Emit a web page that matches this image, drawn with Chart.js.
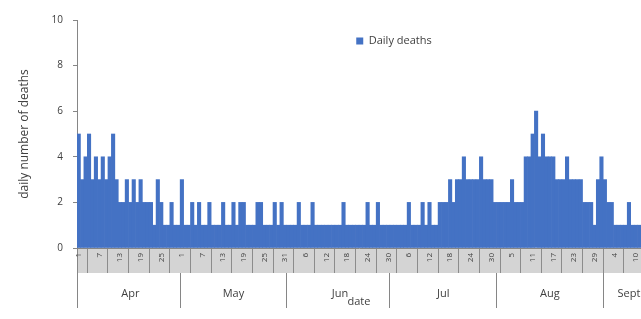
<!DOCTYPE html>
<html>
<head>
<meta charset="utf-8">
<script src="https://cdn.jsdelivr.net/npm/chart.js@4"></script>
<style>
  html, body { margin: 0; padding: 0; background: #fff; }
  #wrap { width: 641px; height: 319px; }
</style>
</head>
<body>
<div id="wrap"><canvas id="chart"></canvas></div>
<script>
// months on the lower axis and how many of their days are shown
const months = ["Apr", "May", "Jun", "Jul", "Aug", "Sept"];
const monthDays = [30, 31, 30, 31, 31, 11];
// day of the month under which the month name is written
const monthLabelDay = [16, 16, 16, 16, 16, 8];

// daily deaths, one value per day
const aprDeaths = [5,3,4,5,3,4,3,4,3,4, 5,3,2,2,3,2,3,2,3,2, 2,2,1,3,2,1,1,2,1,1];
const mayDeaths = [3,1,1,2,1,2,1,1,2,1, 1,1,2,1,1,2,1,2,2,1, 1,1,2,2,1,1,1,2,1,2, 1];
const junDeaths = [1,1,1,2,1,1,1,2,1,1, 1,1,1,1,1,1,2,1,1,1, 1,1,1,2,1,1,2,1,1,1];
const julDeaths = [1,1,1,1,1,2,1,1,1,2, 1,2,1,1,2,2,2,3,2,3, 3,4,3,3,3,3,4,3,3,3, 2];
const augDeaths = [2,2,2,2,3,2,2,2,4,4, 5,6,4,5,4,4,4,3,3,3, 4,3,3,3,3,2,2,2,1,3, 4];
const sepDeaths = [3,2,2,1,1,1,1,2,1,1,1];

const deaths = [].concat(aprDeaths, mayDeaths, junDeaths, julDeaths, augDeaths, sepDeaths);

// one category per day
let labels = [], dayNum = [], monthIdx = [];
months.forEach((m, i) => {
    for (let d = 1; d <= monthDays[i]; d++) {
        labels.push(m + " " + d);
        dayNum.push(d);
        monthIdx.push(i);
    }
});

const txt = "#404040";
const axisLine = "#868686";
const font = "'Open Sans', sans-serif";

// put the legend inside the plot, like the Excel original
const legendInPlot = {
    id: "legendInPlot",
    beforeInit(chart) {
        const lg = chart.legend;
        const fit = lg.fit;
        lg.fit = function () { fit.call(this); this.fullH = this.height; this.height = 0; };
    },
    afterLayout(chart) {
        const lg = chart.legend, a = chart.chartArea;
        const cx = a.left + (a.right - a.left) * 0.562;
        const w = lg.width;
        lg.left = cx - w / 2;
        lg.right = cx + w / 2;
        lg.top = chart.scales.y.getPixelForValue(8.95) - lg.fullH / 2;
        lg.height = lg.fullH;
        lg.bottom = lg.top + lg.fullH;
    }
};

// grey band behind the day labels
const dayBand = {
    id: "dayBand",
    beforeDraw(chart) {
        const s = chart.scales.x, ctx = chart.ctx;
        ctx.save();
        ctx.fillStyle = "#d4d4d4";
        ctx.fillRect(s.left, s.top, s.right - s.left, s.bottom - s.top);
        ctx.restore();
    }
};

new Chart(document.getElementById("chart").getContext("2d"), {
    type: "bar",
    data: {
        labels: labels,
        datasets: [{
            label: "Daily deaths",
            data: deaths,
            backgroundColor: "#4472C4",
            borderWidth: 0,
            barPercentage: 1,
            categoryPercentage: 1,
            xAxisID: "x"
        }]
    },
    options: {
        responsive: true,
        maintainAspectRatio: false,
        animation: false,
        layout: { padding: { top: 20, left: 0, right: 0, bottom: 11 } },
        plugins: {
            legend: {
                position: "top",
                labels: { boxWidth: 7, boxHeight: 7, padding: 4, color: txt, font: { family: font, size: 11 } }
            },
            tooltip: { enabled: false }
        },
        scales: {
            x: {
                position: "bottom",
                offset: true,
                grid: {
                    offset: true,
                    drawOnChartArea: false,
                    tickLength: 25,
                    color: c => (c.index === 0 ? axisLine : c.index % 6 === 3 ? "#8c8c8c" : "rgba(0,0,0,0)")
                },
                border: { color: axisLine },
                ticks: {
                    autoSkip: false, minRotation: 90, maxRotation: 90, padding: -20,
                    color: txt, font: { family: font, size: 8 },
                    callback: (v, i) => (i % 6 === 0 ? String(dayNum[i]) : "")
                },
                afterFit: s => { s.height = 25; }
            },
            xm: {
                type: "category",
                position: "bottom",
                offset: true,
                grid: {
                    offset: true,
                    drawOnChartArea: false,
                    tickLength: 35,
                    color: c => (dayNum[c.index] === 1 ? axisLine : "rgba(0,0,0,0)")
                },
                border: { display: false },
                ticks: {
                    autoSkip: false, minRotation: 0, maxRotation: 0, padding: -21,
                    color: txt, font: { family: font, size: 11 },
                    callback: (v, i) => (dayNum[i] === monthLabelDay[monthIdx[i]] ? months[monthIdx[i]] : "")
                },
                title: { display: true, text: "date", padding: 0, color: txt, font: { family: font, size: 11 } },
                afterFit: s => { s.height = 35; }
            },
            y: {
                min: 0,
                max: 10,
                ticks: { stepSize: 2, padding: 10, color: txt, font: { family: font, size: 10 } },
                grid: { drawOnChartArea: false, tickLength: 4, color: axisLine },
                border: { color: axisLine },
                title: {
                    display: true, text: "daily number of deaths",
                    padding: { top: 17 }, color: txt, font: { family: font, size: 12 }
                },
                afterFit: s => { s.width = 77; }
            }
        }
    },
    plugins: [legendInPlot, dayBand]
});
</script>
</body>
</html>
